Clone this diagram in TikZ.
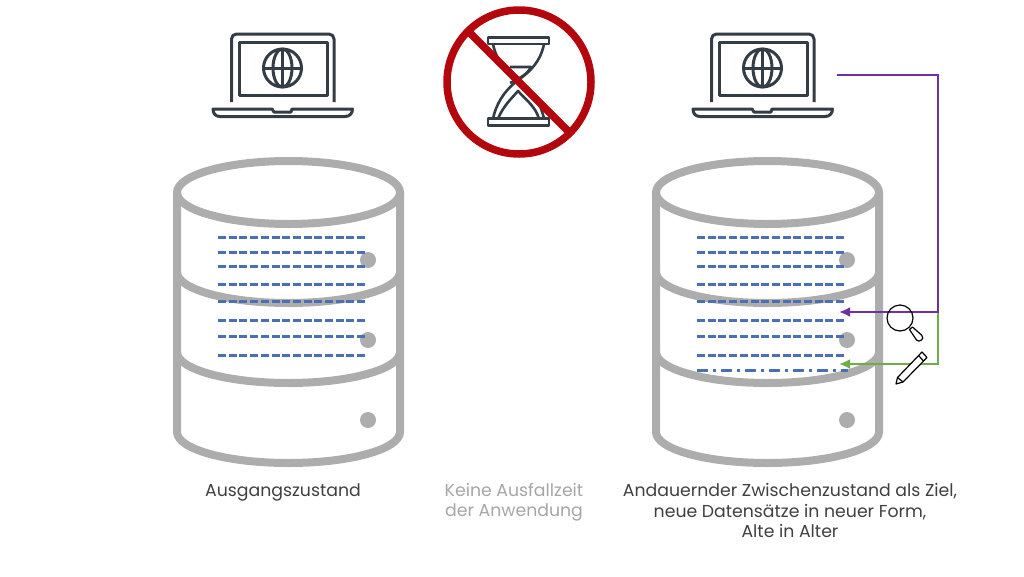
\documentclass[tikz,border=0pt]{standalone}
\usepackage{xcolor}
\usepackage{fontspec}
\setmainfont{Poppins}
\usepackage{tikz}
\usetikzlibrary{arrows}
\usetikzlibrary{arrows.meta}
\usetikzlibrary{positioning}
\definecolor{dbgray}{HTML}{ADADAD}
\definecolor{icondark}{HTML}{343C46}
\definecolor{recordblue}{HTML}{4A6FB5}
\definecolor{stopred}{HTML}{B3070D}
\definecolor{readpurple}{HTML}{7030A0}
\definecolor{writegreen}{HTML}{70AD47}
\definecolor{captiongray}{HTML}{404040}
\definecolor{mutedgray}{HTML}{A6A6A6}
\tikzset{>=latex}
\tikzstyle{dbline} = [draw=dbgray, line width=8pt]
\tikzstyle{dbled} = [fill=dbgray, draw=none]
\tikzstyle{record} = [draw=recordblue, line width=3pt, dash pattern=on 8pt off 2.7pt]
\tikzstyle{newrecord} = [draw=recordblue, line width=3pt, dash pattern=on 11pt off 5pt on 3pt off 5pt]
\tikzstyle{icon} = [draw=icondark, line width=3pt, line join=round]
\tikzstyle{glass} = [draw=icondark, line width=2.6pt, line join=round]
\tikzstyle{caption} = [text=captiongray, align=center, font=\fontsize{17.3}{20.5}\selectfont, inner sep=0pt]
\tikzstyle{muted} = [text=mutedgray, align=center, font=\fontsize{17.3}{20.5}\selectfont, inner sep=0pt]
\tikzstyle{tool} = [draw=black, line width=1.2pt, line join=round]
\tikzstyle{wire} = [line width=2.6pt, -{Latex[length=11pt,width=10pt]}]
\newcommand{\dbcylinder}[1]{
\begin{scope}[shift={(#1,0)}]
\draw [dbline] (288.5,192.5) ellipse [x radius=111.5, y radius=31.5];
\draw [dbline] (177,192) -- (177,432) arc [start angle=180, end angle=0, x radius=111.5, y radius=31] -- (400,192);
\draw [dbline] (177,272) arc [start angle=180, end angle=0, x radius=111.5, y radius=31];
\draw [dbline] (177,352) arc [start angle=180, end angle=0, x radius=111.5, y radius=31];
\foreach \ypos in {260,340,420} {
\fill [dbled] (368,\ypos) circle [radius=8];
}
\foreach \ypos in {237,252,266,284.5,301,320,336,355} {
\draw [record] (218,\ypos) -- (366,\ypos);
}
\end{scope}
}
\newcommand{\laptopicon}[1]{
\begin{scope}[shift={(#1,0)}]
\draw [icon] (231.5,102) -- (231.5,40) [rounded corners=5pt] -- (231.5,34) -- (334,34) [sharp corners] -- (334,102);
\draw [icon] (239,42) rectangle (327,95);
\draw [icon] (282.5,68) circle [radius=19];
\draw [icon] (282.5,68) ellipse [x radius=9.5, y radius=19];
\draw [icon] (263.5,68) -- (301.5,68);
\draw [icon] (282.5,49) -- (282.5,87);
\draw [icon] (272,109) -- (213,109) .. controls (213,113) and (215,116.5) .. (220,116.5) -- (345,116.5) .. controls (350,116.5) and (352.5,113) .. (352.5,109) -- (292,109) -- (291,112) -- (274,112) -- cycle;
\end{scope}
}
\begin{document}
\begin{tikzpicture}[x=1pt, y=-1pt]
\useasboundingbox (0,0) rectangle (1024,576);
\dbcylinder{0}
\dbcylinder{479}
\draw [newrecord] (697,370) -- (848,370);
\laptopicon{0}
\laptopicon{480}
\draw [glass] (488,37.5) rectangle (549,44);
\draw [glass] (488,118.5) rectangle (549,125.5);
\draw [glass] (493,44) .. controls (497,65) and (512,75) .. (520,81) .. controls (534,92) and (541,105) .. (544,118.5);
\draw [glass] (544,44) .. controls (540,65) and (525,75) .. (517,81) .. controls (503,92) and (496,105) .. (493,118.5);
\draw [glass] (510,67) -- (531,67) .. controls (528,74) and (520,78) .. (510,83);
\draw [glass] (498,118.5) .. controls (504,105) and (512,98) .. (518,91) .. controls (526,100) and (535,106) .. (539,118.5);
\draw [draw=stopred, line width=7.5pt] (519,82) circle [radius=72];
\draw [draw=stopred, line width=7.5pt] (469,32) -- (569,132);
\coordinate (laptopout) at (837,75);
\coordinate (bendtop) at (938,75);
\coordinate (bendmid) at (938,312);
\coordinate (bendlow) at (938,364);
\coordinate (readin) at (839,312);
\coordinate (writein) at (839,364);
\draw [wire, draw=writegreen] (bendmid) -- (bendlow) -- (writein);
\draw [wire, draw=readpurple] (laptopout) -- (bendtop) -- (bendmid) -- (readin);
\draw [tool] (900,318) circle [radius=13];
\draw [tool, fill=white] (909.5,329.5) -- (912.5,327) -- (921.5,335) .. controls (923.5,337) and (923,339) .. (921.5,340) .. controls (920,341.5) and (918,341.5) .. (916.5,340) -- cycle;
\draw [tool, fill=white] (896,384) -- (897.5,377.5) -- (922,352) -- (927,357.5) -- (903,382) -- cycle;
\draw [tool] (918.5,355.5) -- (923.5,361);
\draw [tool] (897.5,377.5) -- (903,382);
\node [caption] (startlabel) at (283,492) {Ausgangszustand};
\node [muted] (nodowntime) at (514,502) {Keine Ausfallzeit\\der Anwendung};
\node [caption] (targetlabel) at (790,510.5) {Andauernder Zwischenzustand als Ziel,\\neue Datensätze in neuer Form,\\Alte in Alter};
\end{tikzpicture}
\end{document}
